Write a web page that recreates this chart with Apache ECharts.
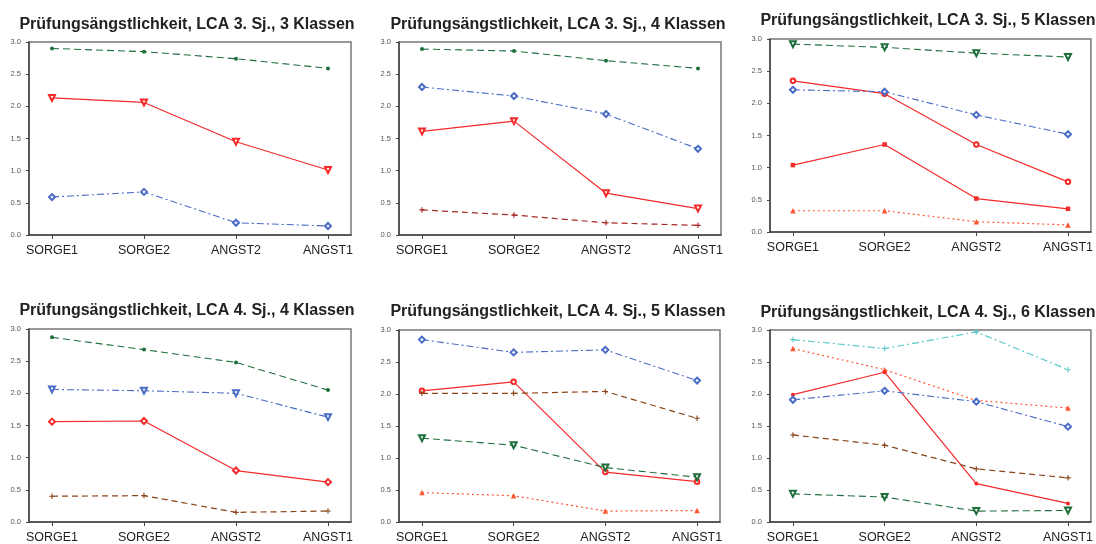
<!DOCTYPE html>
<html>
<head>
<meta charset="utf-8">
<script src="https://cdn.jsdelivr.net/npm/echarts@6/dist/echarts.min.js"></script>
<style>
html,body{margin:0;padding:0;background:#fff;}
#main{width:1096px;height:544px;}
</style>
</head>
<body>
<div id="main"></div>
<script>
// ---- Data ----
const categories = ['SORGE1', 'SORGE2', 'ANGST2', 'ANGST1'];
const catPositions = [0, 1, 2, 3];
const yTicks = [0, 0.5, 1.0, 1.5, 2.0, 2.5, 3.0];
const titles = [
  'Prüfungsängstlichkeit, LCA 3. Sj., 3 Klassen',
  'Prüfungsängstlichkeit, LCA 3. Sj., 4 Klassen',
  'Prüfungsängstlichkeit, LCA 3. Sj., 5 Klassen',
  'Prüfungsängstlichkeit, LCA 4. Sj., 4 Klassen',
  'Prüfungsängstlichkeit, LCA 4. Sj., 5 Klassen',
  'Prüfungsängstlichkeit, LCA 4. Sj., 6 Klassen'
];

// Panel 1: 3. Sj., 3 Klassen
const p1Green = [2.90, 2.85, 2.74, 2.59];
const p1Red   = [2.13, 2.06, 1.45, 1.01];
const p1Blue  = [0.59, 0.67, 0.19, 0.14];

// Panel 2: 3. Sj., 4 Klassen
const p2Green   = [2.89, 2.86, 2.71, 2.59];
const p2Blue    = [2.30, 2.16, 1.88, 1.34];
const p2Red     = [1.61, 1.77, 0.65, 0.41];
const p2DarkRed = [0.39, 0.31, 0.19, 0.15];

// Panel 3: 3. Sj., 5 Klassen
const p3Green    = [2.92, 2.87, 2.78, 2.72];
const p3RedTop   = [2.35, 2.15, 1.36, 0.78];
const p3Blue     = [2.21, 2.18, 1.82, 1.52];
const p3RedLow   = [1.04, 1.36, 0.52, 0.36];
const p3Orange   = [0.33, 0.33, 0.16, 0.11];

// Panel 4: 4. Sj., 4 Klassen
const p4Green = [2.87, 2.68, 2.48, 2.05];
const p4Blue  = [2.06, 2.04, 2.00, 1.63];
const p4Red   = [1.56, 1.57, 0.80, 0.62];
const p4Brown = [0.40, 0.41, 0.15, 0.17];

// Panel 5: 4. Sj., 5 Klassen
const p5Blue   = [2.85, 2.65, 2.69, 2.21];
const p5Red    = [2.05, 2.19, 0.78, 0.63];
const p5Brown  = [2.01, 2.01, 2.04, 1.62];
const p5Green  = [1.31, 1.20, 0.85, 0.70];
const p5Orange = [0.46, 0.41, 0.17, 0.18];

// Panel 6: 4. Sj., 6 Klassen
const p6Cyan   = [2.85, 2.71, 2.97, 2.38];
const p6Orange = [2.71, 2.38, 1.90, 1.78];
const p6Red    = [1.99, 2.34, 0.60, 0.29];
const p6Blue   = [1.91, 2.05, 1.88, 1.49];
const p6Brown  = [1.36, 1.20, 0.83, 0.69];
const p6Green  = [0.44, 0.39, 0.17, 0.18];

// ---- Styles ----
const ST = {
  green:   {color:'#1e6e3c', type:[7,4], w:1.1},
  red:     {color:'#f42a2a', type:'solid', w:1.2},
  blue:    {color:'#4a6cc6', type:[7,3,2,3], w:1.1},
  darkred: {color:'#a82828', type:[6,4], w:1.2},
  brown:   {color:'#8a4418', type:[6,4], w:1.2},
  orange:  {color:'#ff5533', type:[2,3], w:1.2},
  cyan:    {color:'#5ccaca', type:[7,3,2,3], w:1.2}
};
const MK = {
  dot:    {symbol:'circle', size:4},
  ring:   {symbol:'emptyCircle', size:4.5},
  down:   {symbol:'emptyTriangle', size:6, rotate:180},
  up:     {symbol:'triangle', size:5.5},
  diam:   {symbol:'emptyDiamond', size:6},
  sq:     {symbol:'rect', size:4.5},
  plus:   {symbol:'path://M4,0H6V4H10V6H6V10H4V6H0V4H4Z', size:5.5}
};

const panels = [
  {grid:{left:29, top:42, width:322, height:193}, title:[182,12], series:[
    [p1Green,'green','dot'],[p1Red,'red','down'],[p1Blue,'blue','diam']]},
  {grid:{left:399, top:42, width:322, height:193}, title:[553,12], series:[
    [p2Green,'green','dot'],[p2Blue,'blue','diam'],[p2Red,'red','down'],[p2DarkRed,'darkred','plus']]},
  {grid:{left:770, top:39, width:322, height:193}, title:[923,8], series:[
    [p3Green,'green','down'],[p3RedTop,'red','ring'],[p3Blue,'blue','diam'],[p3RedLow,'red','sq'],[p3Orange,'orange','up']]},
  {grid:{left:29, top:329, width:322, height:193}, title:[182,298], series:[
    [p4Green,'green','dot'],[p4Blue,'blue','down'],[p4Red,'red','diam'],[p4Brown,'brown','plus']]},
  {grid:{left:399, top:330, width:321, height:193}, title:[553,299], series:[
    [p5Blue,'blue','diam'],[p5Red,'red','ring'],[p5Brown,'brown','plus'],[p5Green,'green','down'],[p5Orange,'orange','up']]},
  {grid:{left:770, top:330, width:321, height:193}, title:[923,300], series:[
    [p6Cyan,'cyan','plus'],[p6Orange,'orange','up'],[p6Red,'red','dot'],[p6Blue,'blue','diam'],[p6Brown,'brown','plus'],[p6Green,'green','down']]}
];

const option = {
  animation:false,
  backgroundColor:'#ffffff',
  title:[], grid:[], xAxis:[], yAxis:[], series:[]
};

panels.forEach((p, i) => {
  option.title.push({
    text: titles[i], left: p.title[0], top: p.title[1], textAlign:'center',
    textStyle:{fontFamily:'Liberation Sans, Arial, sans-serif', fontWeight:'bold', fontSize:16, color:'#222'}
  });
  option.grid.push(Object.assign({show:true, borderColor:'#777', borderWidth:1.5, backgroundColor:'transparent'}, p.grid));
  option.xAxis.push({
    type:'value', gridIndex:i, min:-0.25, max:3.25,
    axisLine:{show:true, onZero:false, lineStyle:{color:'#444', width:1.5}},
    axisTick:{show:true, length:4, lineStyle:{color:'#444'}, customValues: catPositions},
    splitLine:{show:false},
    axisLabel:{
      show:true, margin:9, color:'#222', fontSize:12.5, fontFamily:'Liberation Sans, Arial, sans-serif',
      customValues: catPositions,
      formatter: v => categories[Math.round(v)] || ''
    }
  });
  option.yAxis.push({
    type:'value', gridIndex:i, min:0, max:3, interval:0.5,
    axisLine:{show:true, onZero:false, lineStyle:{color:'#444', width:1.5}},
    axisTick:{show:true, length:3, lineStyle:{color:'#444'}},
    splitLine:{show:false},
    axisLabel:{margin:8, color:'#555', fontSize:7.5, fontFamily:'Liberation Sans, Arial, sans-serif',
      formatter: v => v.toFixed(1)}
  });
  p.series.forEach(([vals, st, mk]) => {
    const s = ST[st], m = MK[mk];
    option.series.push({
      type:'line', xAxisIndex:i, yAxisIndex:i,
      data: vals.map((v, k) => [catPositions[k], v]),
      symbol:m.symbol, symbolSize:m.size, symbolRotate:m.rotate || 0,
      showSymbol:true,
      lineStyle:{color:s.color, type:s.type, width:s.w},
      itemStyle:{color:s.color, borderWidth:1},
      emphasis:{disabled:true}, silent:true
    });
  });
});

const chart = echarts.init(document.getElementById('main'), null, {renderer:'canvas'});
chart.setOption(option);
</script>
</body>
</html>
